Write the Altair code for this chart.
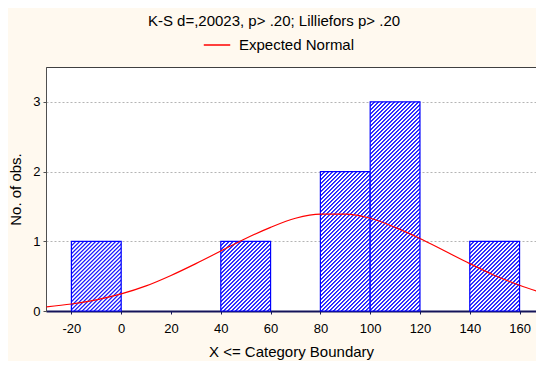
import altair as alt
import pandas as pd

# ---- data ----
bin_start = [-20, 40, 80, 100, 140]
bin_end = [0, 60, 100, 120, 160]
counts = [1, 1, 2, 3, 1]

curve_x = [-30, -20, -10, 0, 10, 20, 30, 40, 50, 60, 70, 80, 90, 100, 110, 120, 130, 140, 150, 160, 170]
curve_y = [0.06, 0.10, 0.16, 0.245, 0.36, 0.51, 0.68, 0.86, 1.04, 1.20, 1.33, 1.39, 1.39, 1.33, 1.20, 1.04, 0.86, 0.68, 0.51, 0.37, 0.25]

x_ticks = [-20, 0, 20, 40, 60, 80, 100, 120, 140, 160]
y_ticks = [0, 1, 2, 3]

title_text = "K-S d=,20023, p> .20; Lilliefors p> .20"
series_name = "Expected Normal"

# ---- layout ----
W, H = 490, 244
XMIN, XMAX = -30.2, 166.6
YMAX = 3.5
FONT = "Liberation Sans"

bars = pd.DataFrame({"start": bin_start, "end": bin_end, "count": counts})
curve = pd.DataFrame({"x": curve_x, "y": curve_y, "series": [series_name] * len(curve_x)})

xscale = alt.Scale(domain=[XMIN, XMAX], nice=False, zero=False)
yscale = alt.Scale(domain=[0, YMAX], nice=False)

BLUE = "#2020ff"
WHITE = "#ffffff"


def hatch(n):
    """Diagonal (45 deg) hatch as a striped linear gradient for a bar n units tall."""
    w = 20 * W / (XMAX - XMIN)
    h = n * H / YMAX
    k = (w / h + 1) / ((w / h) ** 2 + 1)
    span = w + h  # x+y range covered by offsets 0..1
    pitch = 4.0
    step = pitch / span
    stops = []

    def s(o, col):
        return alt.GradientStop(offset=round(min(o, 1), 5), color=col)

    a = 0.0
    while a < 1.0:
        stops += [
            s(a, BLUE), s(a + 0.22 * step, BLUE),
            s(a + 0.5 * step, WHITE), s(a + 0.78 * step, WHITE),
        ]
        a += step
    stops.append(s(1, BLUE))
    return alt.LinearGradient(gradient="linear", stops=stops, x1=0, y1=0,
                              x2=k * w / h, y2=k)


xaxis = alt.Axis(
    values=x_ticks, title="X <= Category Boundary", labelFont=FONT, titleFont=FONT,
    labelFontSize=13, titleFontSize=15, titleFontWeight="normal", labelColor="#000000",
    titleColor="#000000", domainColor="#14145a", domainWidth=2, tickColor="#14145a",
    tickSize=3, labelPadding=8, titlePadding=9, grid=False, labelFlush=False,
    labelExpr="'' + datum.value",
)
yaxis = alt.Axis(
    values=y_ticks, title="No. of obs.", labelFont=FONT, titleFont=FONT,
    labelFontSize=13, titleFontSize=15, titleFontWeight="normal", labelColor="#000000",
    titleColor="#000000", domainColor="#505050", tickColor="#505050", tickSize=3,
    labelPadding=3, titlePadding=9, grid=True, gridColor="#b4b4b4", gridDash=[2, 2],
    format="d",
)

layers = []
for n in sorted(set(counts)):
    layer = (
        alt.Chart(bars)
        .transform_filter(alt.datum["count"] == n)
        .mark_bar(fill=hatch(n), stroke="#0000ff", strokeWidth=1.2)
        .encode(
            x=alt.X("start:Q", scale=xscale, axis=xaxis),
            x2="end:Q",
            y=alt.Y("count:Q", scale=yscale, axis=yaxis),
            y2=alt.datum(0),
        )
    )
    layers.append(layer)

line = (
    alt.Chart(curve)
    .mark_line(strokeWidth=1.2, interpolate="monotone", clip=True)
    .encode(
        x=alt.X("x:Q", scale=xscale, axis=xaxis),
        y=alt.Y("y:Q", scale=yscale, axis=yaxis),
        color=alt.Color(
            "series:N",
            scale=alt.Scale(domain=[series_name], range=["#ff0000"]),
            legend=alt.Legend(
                title=None, orient="none", legendX=157, legendY=-36,
                symbolType="stroke", symbolSize=700, symbolStrokeWidth=1.5,
                labelFont=FONT, labelFontSize=15, labelColor="#000000", labelOffset=8,
            ),
        ),
    )
)

chart = (
    alt.layer(*layers, line)
    .properties(
        width=W,
        height=H,
        autosize=alt.AutoSizeParams(type="none"),
        padding={"left": 38, "top": 59, "right": 0, "bottom": 50},
        background="#fff9ef",
        title=alt.TitleParams(
            text=title_text, font=FONT, fontSize=15, fontWeight="normal",
            color="#000000", anchor="middle", dx=-17, dy=22, offset=12,
            baseline="alphabetic",
        ),
    )
    .configure_view(fill="#ffffff", stroke="#404040", strokeWidth=1)
)

chart.save("out.html", embed_options={"renderer": "svg", "actions": False})
